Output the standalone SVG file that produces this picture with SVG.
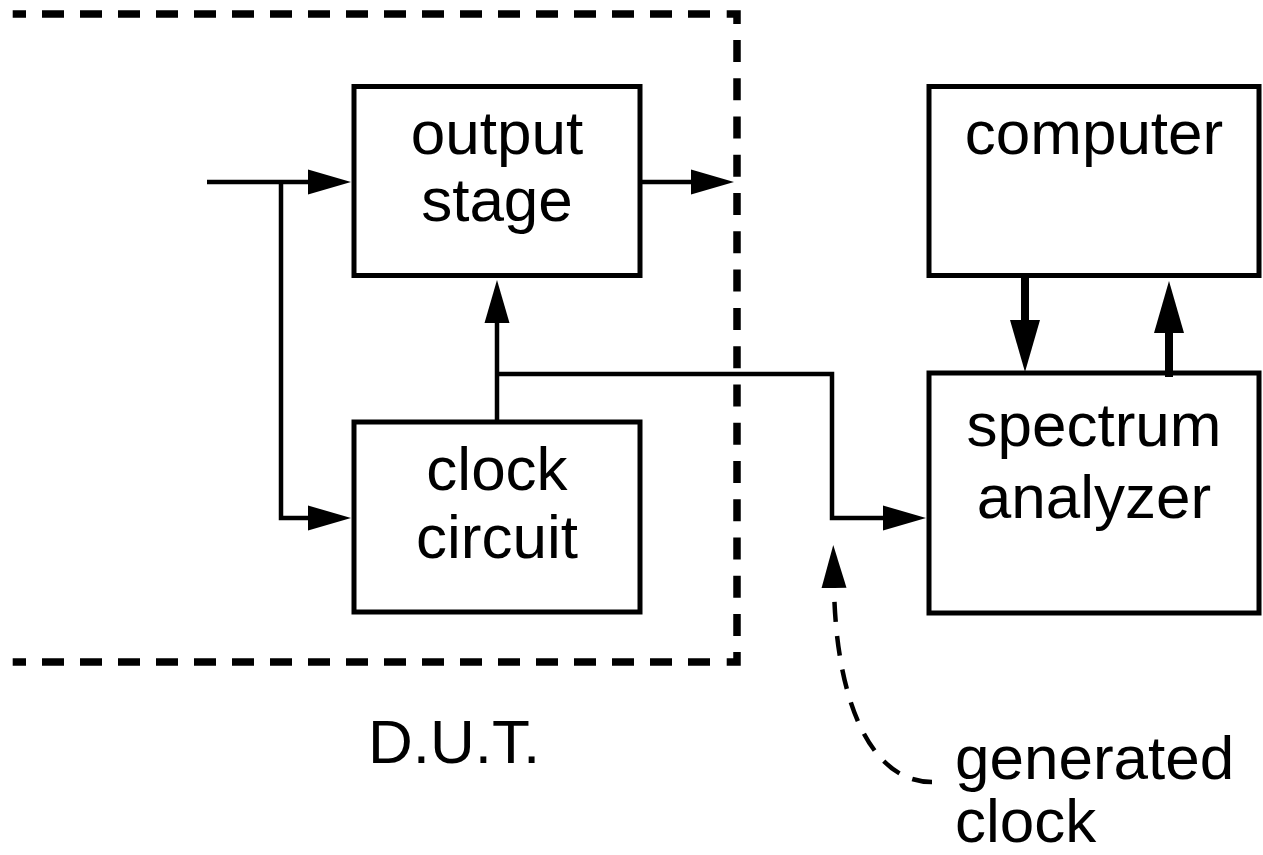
<svg xmlns="http://www.w3.org/2000/svg" width="1263" height="855" viewBox="0 0 1263 855">
<style>
.box{fill:none;stroke:#000;stroke-width:5}
.lbl{font-family:"Liberation Sans",Arial,sans-serif;font-size:62px;fill:#000}
.mid{text-anchor:middle}
.wire{fill:none;stroke:#000;stroke-width:4.5}
.thick{fill:none;stroke:#000;stroke-width:8}
.dut{fill:none;stroke:#000;stroke-width:7.5;stroke-linecap:butt}
.dutc{fill:none;stroke:#000;stroke-width:7.5;stroke-linejoin:miter}
.curve{fill:none;stroke:#000;stroke-width:4.5;stroke-dasharray:20 14}
</style>
<defs>
<marker id="ah" markerUnits="userSpaceOnUse" viewBox="0 -13 44 26" markerWidth="44" markerHeight="26" refX="1" refY="0" orient="auto"><path d="M0,-12.5 L43,0 L0,12.5 z" fill="#000"/></marker>
<marker id="ahb" markerUnits="userSpaceOnUse" viewBox="0 -16 53 32" markerWidth="53" markerHeight="32" refX="1" refY="0" orient="auto"><path d="M0,-15 L52,0 L0,15 z" fill="#000"/></marker>
</defs>
<g id="dut-boundary">
<polyline class="dutc" points="726.7,14 737,14 737,24"/>
<path class="dut" d="M710,14 H12.7" stroke-dasharray="22 16"/>
<path class="dut" d="M737,40 V636" stroke-dasharray="22 16.27"/>
<polyline class="dutc" points="737,652 737,662 726.7,662"/>
<path class="dut" d="M710,662 H12.7" stroke-dasharray="22 16"/>
<text class="lbl mid" x="454" y="763">D.U.T.</text>
</g>
<g id="output-stage">
<rect class="box" x="354" y="86.5" width="286" height="189"/>
<text class="lbl mid" x="497" y="154">output</text>
<text class="lbl mid" x="497" y="221">stage</text>
</g>
<g id="clock-circuit">
<rect class="box" x="354" y="422" width="286" height="190"/>
<text class="lbl mid" x="497" y="490">clock</text>
<text class="lbl mid" x="497" y="558">circuit</text>
</g>
<g id="computer">
<rect class="box" x="929" y="86.5" width="330" height="189"/>
<text class="lbl mid" x="1094" y="154">computer</text>
</g>
<g id="spectrum-analyzer">
<rect class="box" x="929" y="373" width="330" height="240"/>
<text class="lbl mid" x="1094" y="446">spectrum</text>
<text class="lbl mid" x="1094" y="518">analyzer</text>
</g>
<g id="generated-clock-label">
<text class="lbl" x="955" y="779">generated</text>
<text class="lbl" x="955" y="842">clock</text>
</g>
<g id="connectors">
<path class="wire" d="M207,182 H309" marker-end="url(#ah)"/>
<path class="wire" d="M281,182 V518 H309" marker-end="url(#ah)"/>
<path class="wire" d="M640,182 H692" marker-end="url(#ah)"/>
<path class="wire" d="M497,424 V322" marker-end="url(#ah)"/>
<path class="wire" d="M497,374 H832 V518 H884" marker-end="url(#ah)"/>
<path class="thick" d="M1025,274 V321" marker-end="url(#ahb)"/>
<path class="thick" d="M1169,377 V332" marker-end="url(#ahb)"/>
<path class="curve" d="M932,782 C870,782 836,700 834,587" marker-end="url(#ah)"/>
</g>
</svg>
